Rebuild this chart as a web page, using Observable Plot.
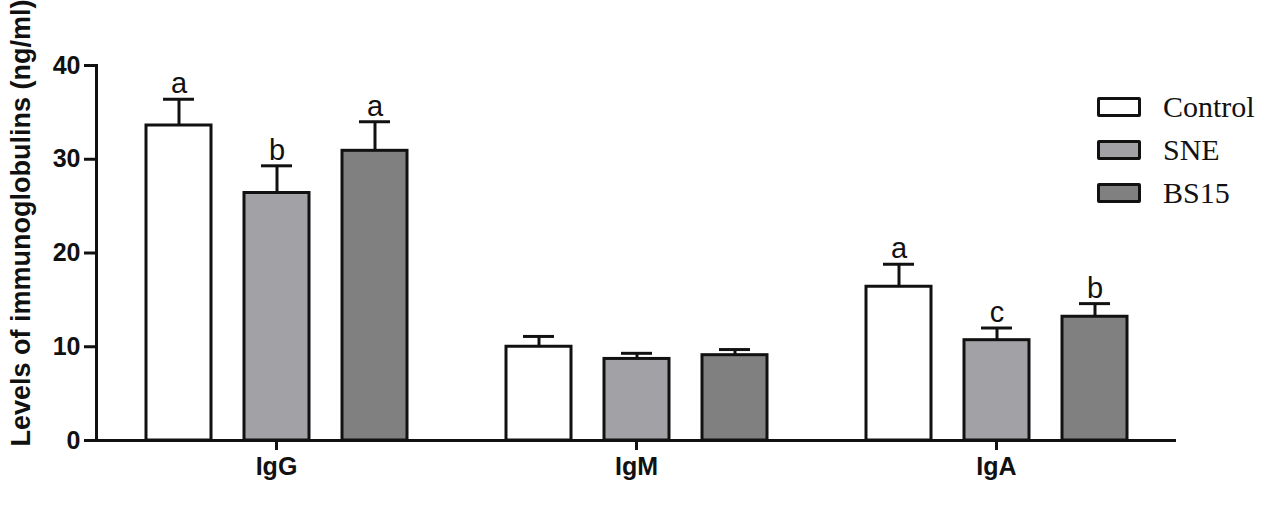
<!DOCTYPE html>
<html>
<head>
<meta charset="utf-8">
<script src="https://cdn.jsdelivr.net/npm/d3@7"></script>
<script src="https://cdn.jsdelivr.net/npm/@observablehq/plot@0.6"></script>
<style>
  body { margin: 0; background: #fff; }
  #wrap { position: relative; width: 1267px; height: 508px; }
  #legend { position: absolute; left: 1097px; top: 85px; font-family: "Liberation Serif", "Times New Roman", serif; font-size: 30px; color: #111; }
  .item { display: flex; align-items: center; height: 43px; }
  .sw { width: 38px; height: 14px; border: 3px solid #111; border-radius: 2px; margin-right: 22px; }
</style>
</head>
<body>
<div id="wrap"><div id="chart"></div><div id="legend"></div></div>
<script>
const groups = ["IgG", "IgM", "IgA"];
const series = ["Control", "SNE", "BS15"];
const colors = ["#ffffff", "#a2a2a6", "#808080"];
const controlMean = [33.6, 10.0, 16.4];
const controlErr  = [2.8, 1.1, 2.4];
const sneMean     = [26.4, 8.7, 10.7];
const sneErr      = [2.9, 0.6, 1.3];
const bs15Mean    = [30.9, 9.1, 13.2];
const bs15Err     = [3.1, 0.6, 1.4];
const controlLetters = ["a", "", "a"];
const sneLetters     = ["b", "", "c"];
const bs15Letters    = ["a", "", "b"];
const yTicks = [0, 10, 20, 30, 40];
const yTitle = "Levels of immunoglobulins (ng/ml)";

const means = [controlMean, sneMean, bs15Mean];
const errs = [controlErr, sneErr, bs15Err];
const letters = [controlLetters, sneLetters, bs15Letters];
const data = [];
groups.forEach((g, gi) => series.forEach((s, si) => data.push({
  group: g, series: s, mean: means[si][gi], upper: means[si][gi] + errs[si][gi], letter: letters[si][gi]
})));

const chart = Plot.plot({
  width: 1267,
  height: 508,
  marginLeft: 95,
  marginRight: 90,
  marginTop: 65,
  marginBottom: 68,
  style: { fontFamily: "'Liberation Sans', Arial, sans-serif", fontSize: "25px", fontWeight: "bold", color: "#111", background: "#fff" },
  fx: { domain: groups, padding: 0, label: null, axis: null },
  x: { domain: series, paddingInner: 0.34, paddingOuter: 0.5, axis: null },
  y: { domain: [0, 40], axis: null },
  color: { domain: series, range: colors },
  marks: [
    Plot.barY(data, { fx: "group", x: "series", y: "mean", fill: "series", stroke: "#111", strokeWidth: 3 }),
    Plot.ruleX(data, { fx: "group", x: "series", y1: "mean", y2: "upper", stroke: "#111", strokeWidth: 3 }),
    Plot.tickY(data, { fx: "group", x: "series", y: "upper", stroke: "#111", strokeWidth: 3, insetLeft: 17, insetRight: 17 }),
    Plot.text(data, { fx: "group", x: "series", y: "upper", text: "letter", lineAnchor: "bottom", dy: -6, fontSize: 29, fontWeight: "normal", fill: "#111" }),
    Plot.ruleY([0], { stroke: "#111", strokeWidth: 3 }),
    Plot.frame({ anchor: "left", facetAnchor: "left", stroke: "#111", strokeWidth: 3 }),
    Plot.axisY({ ticks: yTicks, tickSize: 12, tickPadding: 4, strokeWidth: 3, fontSize: 25, label: null }),
    Plot.text([yTitle], { frameAnchor: "left", facetAnchor: "left", textAnchor: "middle", lineAnchor: "middle", rotate: -90, dx: -75, dy: -30, fontSize: 27, fontWeight: "bold", fill: "#111" }),
    Plot.axisFx({ anchor: "bottom", tickSize: 10, tickPadding: 7, strokeWidth: 3, fontSize: 25, label: null })
  ]
});
document.getElementById("chart").appendChild(chart);

const legend = document.getElementById("legend");
series.forEach((s, i) => {
  const item = document.createElement("div");
  item.className = "item";
  const sw = document.createElement("div");
  sw.className = "sw";
  sw.style.background = colors[i];
  const label = document.createElement("span");
  label.textContent = s;
  item.appendChild(sw);
  item.appendChild(label);
  legend.appendChild(item);
});
</script>
</body>
</html>
